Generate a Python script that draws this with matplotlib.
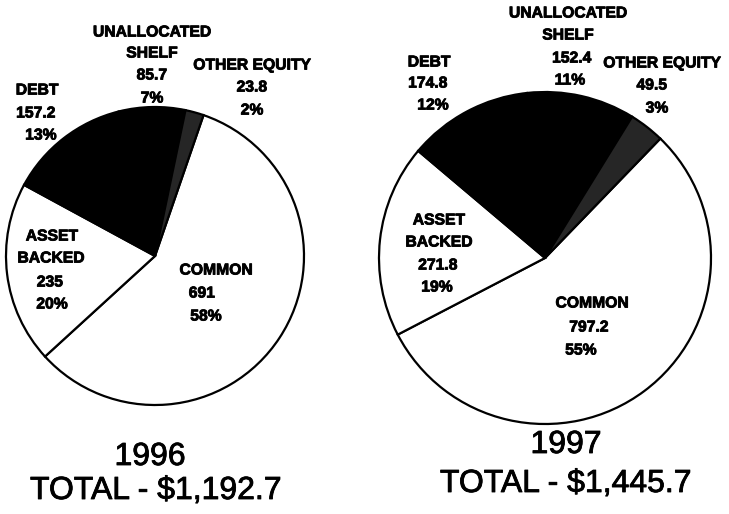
import matplotlib.pyplot as plt
import matplotlib.patheffects as pe

plt.rcParams['font.family'] = ['Liberation Sans', 'DejaVu Sans']

# slice order: common, asset backed, debt, unallocated shelf, other equity
categories = ["COMMON", "ASSET\nBACKED", "DEBT", "UNALLOCATED\nSHELF", "OTHER EQUITY"]
values_1996 = [691, 235, 157.2, 85.7, 23.8]
values_1997 = [797.2, 271.8, 174.8, 152.4, 49.5]
pcts_1996 = ["58%", "20%", "13%", "7%", "2%"]
pcts_1997 = ["55%", "19%", "12%", "11%", "3%"]
years = ["1996", "1997"]
totals = ["$1,192.7", "$1,445.7"]

colors = ["white", "white", "black", "black", "#262626"]

W, H = 729, 514
fig = plt.figure(figsize=(W / 100, H / 100), dpi=100)
ax = fig.add_axes([0, 0, 1, 1])


def py(y):
    # image pixel row -> data y
    return H - y


# pies: centre and radius in pixels, start angle of the common slice
pies = [
    (values_1996, (155, py(256)), 149, 71),
    (values_1997, (545, py(258)), 166, 46),
]
for vals, c, r, start in pies:
    ax.pie(vals, colors=colors, center=c, radius=r, startangle=start,
           counterclock=False, frame=True,
           wedgeprops=dict(edgecolor='black', linewidth=1.6))
ax.set_xlim(0, W)
ax.set_ylim(0, H)
ax.set_aspect('equal')
ax.axis('off')

# label line positions (x centre, y row) for each slice, per year
label_pos = [
    {  # 1996
        "COMMON": [(216, 270), (202, 293), (206, 316)],
        "ASSET\nBACKED": [(52, 236), (51, 258), (50, 282), (52, 304)],
        "DEBT": [(37, 90), (36, 113), (41, 135)],
        "UNALLOCATED\nSHELF": [(152, 32), (152, 53), (152, 75), (152, 98)],
        "OTHER EQUITY": [(252, 65), (252, 87), (252, 110)],
    },
    {  # 1997
        "COMMON": [(592, 303), (589, 327), (581, 350)],
        "ASSET\nBACKED": [(439, 220), (439, 242), (438, 265), (437, 287)],
        "DEBT": [(429, 62), (428, 83), (433, 105)],
        "UNALLOCATED\nSHELF": [(568, 13), (568, 35), (572, 58), (570, 80)],
        "OTHER EQUITY": [(662, 63), (652, 85), (657, 108)],
    },
]

thick = [pe.withStroke(linewidth=0.6, foreground='black')]

for i, (vals, pcts) in enumerate([(values_1996, pcts_1996), (values_1997, pcts_1997)]):
    for cat, v, p in zip(categories, vals, pcts):
        lines = cat.split("\n") + [f"{v:g}", p]
        for line, (x, y) in zip(lines, label_pos[i][cat]):
            ax.text(x, py(y), line, ha='center', va='center',
                    fontsize=11.3, fontweight='bold', color='black',
                    path_effects=thick)

# titles under the pies
title_fx = [pe.withStroke(linewidth=0.6, foreground='black')]
title_pos = [((150, 457), (156, 491)), ((566, 445), (566, 484))]
for yr, tot, (p1, p2) in zip(years, totals, title_pos):
    ax.text(p1[0], py(p1[1]), yr, ha='center', va='center', fontsize=23,
            path_effects=title_fx)
    ax.text(p2[0], py(p2[1]), f"TOTAL - {tot}", ha='center', va='center',
            fontsize=23, path_effects=title_fx)

fig.savefig("out.png", dpi=100)
